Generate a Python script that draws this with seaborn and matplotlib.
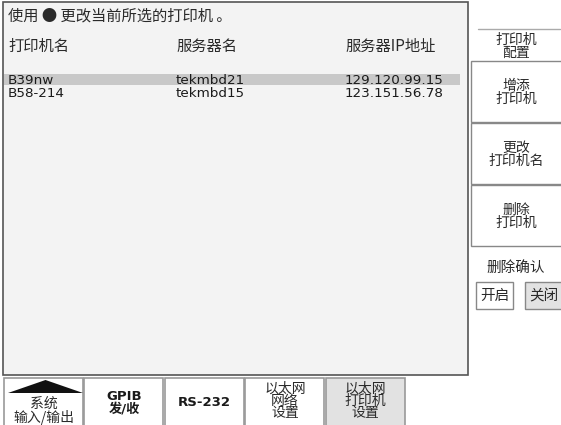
import matplotlib.pyplot as plt
import matplotlib.patches as mpatches
import seaborn as sns

sns.set_style("white")
plt.rcParams["font.family"] = ["Noto Sans CJK SC", "DejaVu Sans"]

# ── data ────────────────────────────────────────────────────────────────────
hint = "使用 ● 更改当前所选的打印机 。"
headers = ["打印机名", "服务器名", "服务器IP地址"]
printers = ["B39nw", "B58-214"]
servers = ["tekmbd21", "tekmbd15"]
ips = ["129.120.99.15", "123.151.56.78"]
selected = 0

side_title = "打印机\n配置"
side_keys = ["增添\n打印机", "更改\n打印机名", "删除\n打印机"]
confirm_label = "删除确认"
confirm_opts = ["开启", "关闭"]
confirm_on = 1

bottom_keys = ["系统\n输入/输出", "GPIB\n发/收", "RS-232", "以太网\n网络\n设置", "以太网\n打印机\n设置"]
bottom_active = 4

# ── canvas ──────────────────────────────────────────────────────────────────
W, H = 561, 425
fig = plt.figure(figsize=(5.61, 4.25), dpi=100)
ax = fig.add_axes([0, 0, 1, 1])
ax.set_xlim(0, W); ax.set_ylim(H, 0); ax.axis("off")
txt = "#2a2a2a"
latin = ["DejaVu Sans", "Noto Sans CJK SC"]

# main panel
ax.add_patch(mpatches.Rectangle((3, 2), 465, 373, fc="#f3f3f3", ec="#555555", lw=1.2))
ax.text(8, 16, hint, fontsize=11, va="center", color=txt)
col_x = [8, 176, 345]
for x, h in zip(col_x, headers):
    ax.text(x, 46, h, fontsize=11, va="center", color=txt)

row_y = [80, 93]
ax.add_patch(mpatches.Rectangle((4, row_y[selected] - 6.5), 456, 11, fc="#c8c8c8", ec="none"))
for y, p, s, ip in zip(row_y, printers, servers, ips):
    for x, v in zip(col_x, [p, s, ip]):
        ax.text(x, y, v, fontsize=9.7, va="center", color="#1a1a1a", family=latin)

# side menu
ax.plot([478, 560], [29, 29], color="#aaaaaa", lw=1)
ax.text(516, 46, side_title, fontsize=10, ha="center", va="center", linespacing=0.9, color=txt)
for i, k in enumerate(side_keys):
    top = 61 + i * 62
    ax.add_patch(mpatches.Rectangle((471, top), 92, 61, fc="white", ec="#888888", lw=1))
    ax.text(516, top + 31, k, fontsize=10, ha="center", va="center", linespacing=0.9, color=txt)
ax.text(516, 268, confirm_label, fontsize=10.5, ha="center", va="center", color=txt)
for i, o in enumerate(confirm_opts):
    x0 = 476 + i * 49
    ax.add_patch(mpatches.Rectangle((x0, 282), 37, 27, fc="#e2e2e2" if i == confirm_on else "white",
                                    ec="#888888", lw=1))
    ax.text(x0 + 18.5, 296, o, fontsize=10.5, ha="center", va="center", color=txt)

# bottom menu
for i, k in enumerate(bottom_keys):
    x0 = 4 + i * 80.5
    ax.add_patch(mpatches.Rectangle((x0, 378), 79, 50, fc="#e2e2e2" if i == bottom_active else "white",
                                    ec="#999999", lw=1.2))
    cx = x0 + 39.5
    if i == 0:
        ax.add_patch(mpatches.Polygon([(x0 + 4, 393), (cx + 2, 380), (x0 + 79, 393)], fc="#111111", ec="none"))
        ax.text(cx, 411, k, fontsize=10, ha="center", va="center", linespacing=0.9, color=txt)
    elif i in (1, 2):
        ax.text(cx, 403, k, fontsize=9.5, ha="center", va="center", linespacing=0.9,
                color="#1a1a1a", family=latin, fontweight="bold")
    else:
        ax.text(cx, 401, k, fontsize=10, ha="center", va="center", linespacing=0.85, color=txt)

fig.savefig("out.png", dpi=100)
